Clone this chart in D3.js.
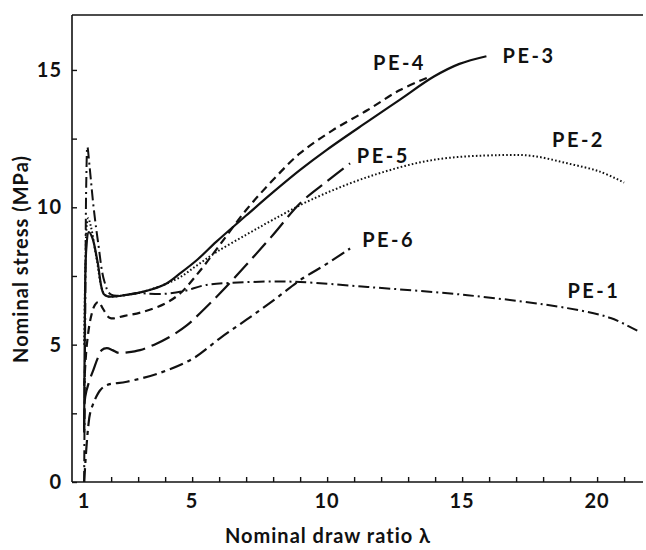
<!DOCTYPE html>
<html>
<head>
<meta charset="utf-8">
<script src="https://cdn.jsdelivr.net/npm/d3@7"></script>
<style>
  body { margin: 0; background: #fff; }
  text { font-family: Lato, "DejaVu Sans", sans-serif; font-weight: 700; fill: #111; }
</style>
</head>
<body>
<div id="chart"></div>
<script>
// values: nominal draw ratio (lambda) vs nominal stress (MPa)
const pe1Lambda = [1.0, 1.04, 1.08, 1.12, 1.2, 1.35, 1.52, 1.75, 2.0, 3.0, 3.3, 4.0, 4.7, 5.5, 6.5, 8, 9, 11.5, 15.2, 18.9, 20.5, 21.5];
const pe1Stress = [0, 6, 11, 12.2, 11.5, 10.0, 8.7, 7.3, 6.82, 6.88, 6.86, 6.85, 6.95, 7.17, 7.25, 7.3, 7.28, 7.1, 6.8, 6.33, 5.97, 5.5];

const pe2Lambda = [1.0, 1.05, 1.1, 1.15, 1.25, 1.45, 1.72, 1.9, 2.5, 3.2, 4.0, 4.56, 5.2, 5.9, 7, 8, 9.4, 11.5, 13.9, 16.4, 17.6, 18.9, 20.1, 21.0];
const pe2Stress = [5, 8, 9.4, 9.6, 9.3, 8.2, 6.88, 6.76, 6.8, 6.93, 7.2, 7.46, 7.9, 8.37, 9.0, 9.55, 10.27, 11.1, 11.72, 11.9, 11.87, 11.6, 11.3, 10.9];

const pe3Lambda = [1.0, 1.02, 1.08, 1.17, 1.3, 1.5, 1.72, 1.9, 2.5, 3.2, 4.0, 4.56, 5.2, 5.9, 7, 8, 9, 10, 11.47, 12.7, 13.94, 14.9, 15.9];
const pe3Stress = [1.8, 5, 8.5, 9.1, 8.9, 8.0, 6.85, 6.75, 6.8, 6.93, 7.2, 7.6, 8.1, 8.75, 9.7, 10.55, 11.36, 12.1, 13.1, 13.92, 14.75, 15.22, 15.5];

const pe4Lambda = [1.0, 1.1, 1.25, 1.4, 1.53, 1.7, 1.96, 2.5, 3.2, 4.0, 4.56, 5.3, 6, 7, 8, 9, 10.2, 11.5, 12.7, 13.8];
const pe4Stress = [3.5, 5.0, 6.0, 6.45, 6.56, 6.3, 5.97, 6.05, 6.2, 6.5, 6.87, 7.7, 8.6, 9.9, 11.0, 11.97, 12.8, 13.54, 14.27, 14.75];

const pe5Lambda = [1.0, 1.04, 1.2, 1.35, 1.5, 1.65, 1.84, 2.05, 2.27, 2.6, 3.07, 3.6, 4.2, 4.8, 5.3, 6.04, 7, 8, 9, 10, 10.85];
const pe5Stress = [1.9, 3.1, 3.7, 4.1, 4.5, 4.8, 4.87, 4.8, 4.7, 4.72, 4.8, 5.0, 5.3, 5.7, 6.15, 6.88, 7.9, 9.0, 10.15, 10.95, 11.6];

const pe6Lambda = [1.0, 1.08, 1.15, 1.22, 1.4, 1.6, 1.84, 2.58, 3.8, 5.04, 6.04, 7, 8, 9, 10, 10.85];
const pe6Stress = [0, 1.2, 2.0, 2.5, 3.0, 3.35, 3.53, 3.65, 3.97, 4.5, 5.24, 5.9, 6.6, 7.35, 7.95, 8.5];

const seriesNames = ['PE-1', 'PE-2', 'PE-3', 'PE-4', 'PE-5', 'PE-6'];
// where each curve label sits (lambda, stress of its baseline start)
const labelLambda = [18.9, 18.33, 16.5, 11.7, 11.1, 11.3];
const labelStress = [6.7, 12.2, 15.25, 15.0, 11.6, 8.55];

const xTickLabels = [1, 5, 10, 15, 20];
const xMinorTicks = d3.range(2, 22);
const yTickLabels = [0, 5, 10, 15];
const yMinorTicks = [2.5, 7.5, 12.5];

const width = 646;
const height = 550;

const svg = d3.select('#chart').append('svg')
    .attr('width', width)
    .attr('height', height);

const x = d3.scaleLinear().domain([0.55, 21.7]).range([72, 643]);
const y = d3.scaleLinear().domain([0, 17]).range([482, 15]);

// frame: left, bottom and top lines
const frame = svg.append('g').attr('stroke', '#111').attr('stroke-width', 1.6);
frame.append('line').attr('x1', x(0.55)).attr('x2', x(0.55)).attr('y1', y(0)).attr('y2', y(17));
frame.append('line').attr('x1', x(0.55)).attr('x2', x(21.7)).attr('y1', y(0)).attr('y2', y(0));
frame.append('line').attr('x1', x(0.55)).attr('x2', x(21.7)).attr('y1', y(17)).attr('y2', y(17));

// inward ticks
svg.append('g')
    .attr('transform', `translate(0,${y(0)})`)
    .call(d3.axisTop(x).tickValues(xMinorTicks).tickSize(5).tickFormat(''))
    .call(g => g.select('.domain').remove())
    .call(g => g.selectAll('line').attr('stroke', '#111').attr('stroke-width', 1.4));

svg.append('g')
    .attr('transform', `translate(${x(0.55)},0)`)
    .call(d3.axisRight(y).tickValues(yTickLabels.concat(yMinorTicks)).tickSize(5).tickFormat(''))
    .call(g => g.select('.domain').remove())
    .call(g => g.selectAll('line').attr('stroke', '#111').attr('stroke-width', 1.4));

// tick labels
svg.append('g').selectAll('text')
  .data(xTickLabels)
  .join('text')
    .attr('x', d => x(d))
    .attr('y', 508)
    .attr('text-anchor', 'middle')
    .attr('font-size', 20)
    .attr('letter-spacing', 1)
    .text(d => d);

svg.append('g').selectAll('text')
  .data(yTickLabels)
  .join('text')
    .attr('x', 62)
    .attr('y', d => y(d) + 7)
    .attr('text-anchor', 'end')
    .attr('font-size', 20)
    .attr('letter-spacing', 1)
    .text(d => d);

// axis titles
svg.append('text')
    .attr('x', 328)
    .attr('y', 543)
    .attr('text-anchor', 'middle')
    .attr('font-size', 20)
    .attr('letter-spacing', 1)
    .text('Nominal draw ratio λ');

svg.append('text')
    .attr('transform', 'translate(28,259) rotate(-90)')
    .attr('text-anchor', 'middle')
    .attr('font-size', 20)
    .attr('letter-spacing', 1)
    .text('Nominal stress (MPa)');

// curves
const curves = [
  {lam: pe1Lambda, s: pe1Stress, dash: '11,4,2,4', w: 2},
  {lam: pe2Lambda, s: pe2Stress, dash: '1.6,2.2', w: 2},
  {lam: pe3Lambda, s: pe3Stress, dash: null, w: 2.2},
  {lam: pe4Lambda, s: pe4Stress, dash: '8,5', w: 2.2},
  {lam: pe5Lambda, s: pe5Stress, dash: '20,7', w: 2.2},
  {lam: pe6Lambda, s: pe6Stress, dash: '14,5,4,5', w: 2.2}
];

const line = d3.line()
    .x(d => x(d[0]))
    .y(d => y(d[1]))
    .curve(d3.curveCatmullRom.alpha(0.5));

svg.append('g').selectAll('path')
  .data(curves)
  .join('path')
    .attr('d', c => line(d3.zip(c.lam, c.s)))
    .attr('fill', 'none')
    .attr('stroke', '#111')
    .attr('stroke-width', c => c.w)
    .attr('stroke-dasharray', c => c.dash);

// curve labels
svg.append('g').selectAll('text')
  .data(seriesNames)
  .join('text')
    .attr('x', (d, i) => x(labelLambda[i]))
    .attr('y', (d, i) => y(labelStress[i]))
    .attr('font-size', 20)
    .attr('letter-spacing', 2.5)
    .text(d => d);
</script>
</body>
</html>
